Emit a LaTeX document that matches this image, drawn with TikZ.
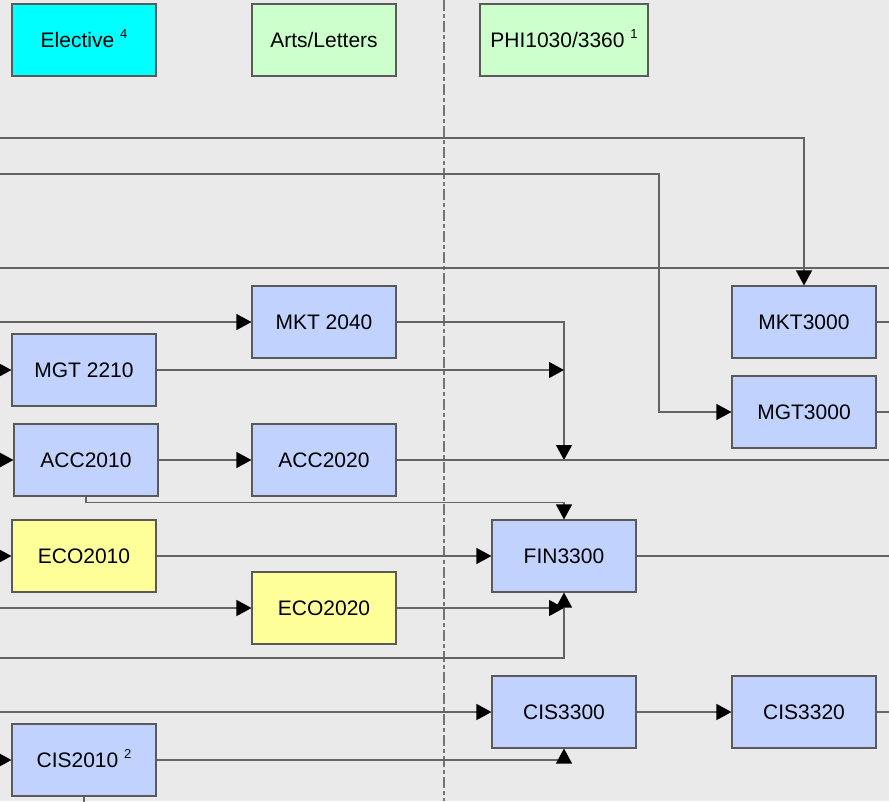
\documentclass[tikz,border=0pt]{standalone}
\usepackage{fontspec}
\setmainfont{Liberation Sans}
\usetikzlibrary{arrows.meta}
\definecolor{bgcol}{RGB}{234,234,234}
\definecolor{bluebox}{RGB}{193,210,255}
\definecolor{greenbox}{RGB}{204,255,204}
\definecolor{yellowbox}{RGB}{255,255,153}
\definecolor{cyanbox}{RGB}{0,255,255}
\definecolor{edgecol}{RGB}{100,100,100}
\definecolor{bordercol}{RGB}{90,90,90}
\tikzset{
  course/.style={draw=bordercol, line width=1.1pt, minimum width=144pt, minimum height=72pt,
    inner sep=0pt, font=\fontsize{21}{25}\selectfont, text=black},
  bluec/.style={course, fill=bluebox},
  greenc/.style={course, fill=greenbox},
  yellowc/.style={course, fill=yellowbox},
  cyanc/.style={course, fill=cyanbox},
  wire/.style={draw=edgecol, line width=1.2pt},
  conn/.style={wire, -{Triangle[length=15pt,width=16pt,color=black,fill=black]}},
  divider/.style={draw=edgecol!90, line width=1.3pt, dash pattern=on 11pt off 3pt on 4pt off 3pt}
}
\newcommand{\sups}[1]{\ \raisebox{0.42em}[0pt][0pt]{\fontsize{13}{14}\selectfont #1}}
\begin{document}
\begin{tikzpicture}[x=1pt,y=-1pt]
\useasboundingbox (0,0) rectangle (889,801);
\clip (0,0) rectangle (889,801);
\fill[bgcol] (0,0) rectangle (889,801);
\coordinate (dtop) at (444,0);
\coordinate (dbot) at (444,801);
\draw[divider] (dtop) -- (dbot);

% nodes
\node[cyanc]   (elec)    at (84,40)  {Elective\sups{4}};
\node[greenc]  (arts)    at (324,40) {Arts/Letters};
\node[greenc, minimum width=168pt] (phi) at (564,40) {PHI1030/3360\sups{1}};
\node[bluec]   (mkt2040) at (324,322) {MKT 2040};
\node[bluec]   (mgt2210) at (84,370)  {MGT 2210};
\node[bluec]   (acc2010) at (86,460)  {ACC2010};
\node[bluec]   (acc2020) at (324,460) {ACC2020};
\node[bluec]   (mkt3000) at (804,322) {MKT3000};
\node[bluec]   (mgt3000) at (804,412) {MGT3000};
\node[yellowc] (eco2010) at (84,556)  {ECO2010};
\node[yellowc] (eco2020) at (324,608) {ECO2020};
\node[bluec]   (cis2010) at (84,760)  {CIS2010\sups{2}};
\node[bluec]   (fin3300) at (564,556) {FIN3300};
\node[bluec]   (cis3300) at (564,712) {CIS3300};
\node[bluec]   (cis3320) at (804,712) {CIS3320};

% free ends
\coordinate (inA) at (-20,138);
\coordinate (inB) at (-20,174);
\coordinate (tB)  at (659,174);
\coordinate (inC) at (-20,268);
\coordinate (outC) at (900,268);
\coordinate (inD) at (-20,322);
\coordinate (inMGT) at (-20,370);
\coordinate (inACC) at (-20,460);
\coordinate (inECO) at (-20,556);
\coordinate (inE2) at (-20,608);
\coordinate (inF) at (-20,658);
\coordinate (inG) at (-20,712);
\coordinate (inCIS) at (-20,760);
\coordinate (j1) at (564,460);
\coordinate (j2) at (564,370);
\coordinate (j3) at (564,608);
\coordinate (outACC) at (900,460);
\coordinate (outFIN) at (900,556);
\coordinate (outMKT) at (900,322);
\coordinate (outMGT) at (900,412);
\coordinate (outCIS) at (900,712);

% connectors
\draw[conn] (inA) -| (mkt3000.north);
\draw[conn] (inB) -- (tB) |- (mgt3000.west);
\draw[wire] (inC) -- (outC);
\draw[conn] (inD) -- (mkt2040.west);
\draw[conn] (mkt2040.east) -| (j1);
\draw[conn] (inMGT) -- (mgt2210.west);
\draw[conn] (mgt2210.east) -- (j2);
\draw[conn] (inACC) -- (acc2010.west);
\draw[conn] (acc2010.east) -- (acc2020.west);
\draw[wire] (acc2020.east) -- (outACC);
\draw[conn] (acc2010.south) -- ++(0,6) -| (fin3300.north);
\draw[conn] (inECO) -- (eco2010.west);
\draw[conn] (eco2010.east) -- (fin3300.west);
\draw[wire] (fin3300.east) -- (outFIN);
\draw[conn] (inE2) -- (eco2020.west);
\draw[conn] (eco2020.east) -- (j3);
\draw[conn] (inF) -| (fin3300.south);
\draw[conn] (inG) -- (cis3300.west);
\draw[conn] (cis3300.east) -- (cis3320.west);
\draw[wire] (cis3320.east) -- (outCIS);
\draw[conn] (inCIS) -- (cis2010.west);
\draw[conn] (cis2010.east) -| (cis3300.south);
\draw[wire] (cis2010.south) -- ++(0,12);
\draw[wire] (mkt3000.east) -- (outMKT);
\draw[wire] (mgt3000.east) -- (outMGT);
\end{tikzpicture}
\end{document}
